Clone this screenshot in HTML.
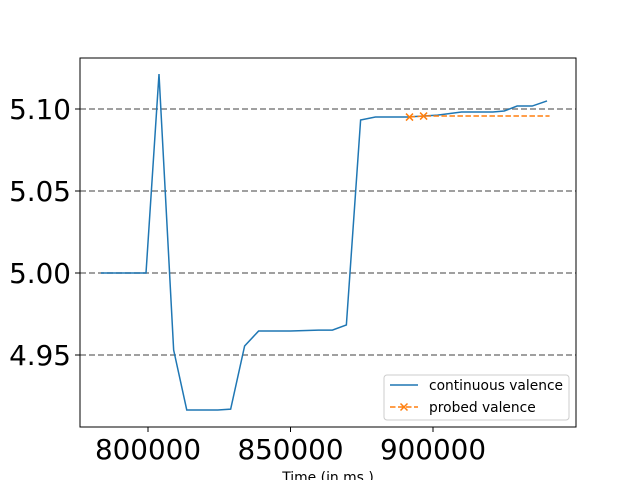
<!DOCTYPE html>
<html><head><meta charset="utf-8"><style>
body{margin:0;background:#fff;}
svg{display:block;font-family:"DejaVu Sans","Liberation Sans",sans-serif;}
</style></head><body>
<svg id="chart" width="640" height="480">
<g id="grid"></g><g id="series"></g><g id="axes"></g><g id="legend"></g>
</svg>
<script>
const contX=[783500,799300,803860,809000,813600,824500,829000,833900,838800,850000,859800,864700,869600,874600,879800,891000,901600,910000,921000,925000,929500,934800,940000];
const contY=[5.000,5.000,5.1213,4.953,4.9165,4.9165,4.917,4.9555,4.9646,4.9646,4.9652,4.9652,4.9683,5.0933,5.0951,5.0951,5.0963,5.0982,5.0982,5.0988,5.1018,5.1018,5.1049];
const probeX=[891750,896700,940900];
const probeY=[5.0951,5.0957,5.0957];
const probeMarkers=2;
const xTicks=[800000,850000,900000];
const yTicks=[4.95,5.00,5.05,5.10];
const yTickLabels=["4.95","5.00","5.05","5.10"];
const L=80,R=576,T=58,B=427;
const X0=776140,X1=950175,Y0=4.9061,Y1=5.1311;
const sx=v=>L+(v-X0)/(X1-X0)*(R-L);
const sy=v=>B-(v-Y0)/(Y1-Y0)*(B-T);
const NS="http://www.w3.org/2000/svg";
function mk(tag,attrs,parent){const e=document.createElementNS(NS,tag);for(const k in attrs)e.setAttribute(k,attrs[k]);document.getElementById(parent).appendChild(e);return e;}
yTicks.forEach(v=>{const l=mk('line',{x1:L,x2:R,y1:sy(v),y2:sy(v),stroke:'#808080','stroke-width':1.5,'stroke-dasharray':'6,3'},'grid');

});
const cp=mk('polyline',{points:contX.map((x,i)=>sx(x)+','+sy(contY[i])).join(' '),fill:'none',stroke:'#1f77b4','stroke-width':1.5},'series');


const pp=mk('polyline',{points:probeX.map((x,i)=>sx(x)+','+sy(probeY[i])).join(' '),fill:'none',stroke:'#ff7f0e','stroke-width':1.5,'stroke-dasharray':'5.5,2.5'},'series');


for(let i=0;i<probeMarkers;i++){const cx=sx(probeX[i]),cy=sy(probeY[i]);
const m=mk('path',{d:`M${cx-3.5},${cy-3.5}L${cx+3.5},${cy+3.5}M${cx-3.5},${cy+3.5}L${cx+3.5},${cy-3.5}`,stroke:'#ff7f0e','stroke-width':1.5},'series');

}
const fr=mk('rect',{x:L,y:T,width:R-L,height:B-T,fill:'none',stroke:'#000','stroke-width':1},'axes');


xTicks.forEach(v=>{mk('line',{x1:sx(v),x2:sx(v),y1:B,y2:B+5,stroke:'#000'},'axes');
const t=mk('text',{x:sx(v),y:B+32,'text-anchor':'middle','font-size':27.8},'axes');t.textContent=v;

});
yTicks.forEach((v,i)=>{mk('line',{x1:L-5,x2:L,y1:sy(v),y2:sy(v),stroke:'#000'},'axes');
const t=mk('text',{x:L-9,y:sy(v)+10,'text-anchor':'end','font-size':27.8},'axes');t.textContent=yTickLabels[i];

});
const xl=mk('text',{x:(L+R)/2,y:482,'text-anchor':'middle','font-size':13.9},'axes');xl.textContent='Time (in ms )';


const lb=mk('rect',{x:384,y:375,width:185,height:45,rx:3,fill:'#fff',stroke:'#ccc'},'legend');


mk('line',{x1:390,x2:418,y1:385,y2:385,stroke:'#1f77b4','stroke-width':1.5},'legend');
const l1=mk('text',{x:429,y:390,'font-size':13.8},'legend');l1.textContent='continuous valence';


mk('line',{x1:390,x2:418,y1:407,y2:407,stroke:'#ff7f0e','stroke-width':1.5,'stroke-dasharray':'5.5,2.5'},'legend');
mk('path',{d:'M400.5,403.5L407.5,410.5M400.5,410.5L407.5,403.5',stroke:'#ff7f0e','stroke-width':1.5},'legend');
const l2=mk('text',{x:429,y:412,'font-size':13.8},'legend');l2.textContent='probed valence';


</script>
</body></html>
